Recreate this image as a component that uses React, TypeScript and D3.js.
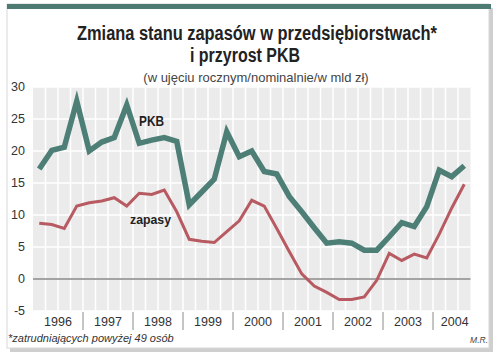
import * as d3 from 'd3'

// quarterly values, 1996 Q1 .. 2004 Q3
const pkb = [
  17.2, 20.1, 20.6, 27.8, 20.0, 21.4, 22.1, 27.2, 21.2, 21.7, 22.1, 21.5,
  11.6, 13.6, 15.6, 23.0, 19.1, 20.0, 16.8, 16.4, 12.9, 10.5, 8.0, 5.6,
  5.8, 5.6, 4.5, 4.5, 6.6, 8.8, 8.2, 11.3, 17.0, 16.0, 17.7,
]
const zapasy = [
  8.7, 8.5, 7.9, 11.4, 11.9, 12.2, 12.7, 11.4, 13.4, 13.2, 13.9, 10.5,
  6.2, 5.9, 5.7, 7.4, 9.1, 12.3, 11.4, 7.9, 4.3, 0.8, -1.1, -2.1,
  -3.2, -3.2, -2.8, -0.2, 4.0, 2.9, 3.9, 3.3, 7.0, 11.1, 14.8,
]
const years = ['1996', '1997', '1998', '1999', '2000', '2001', '2002', '2003', '2004']
const yTicks = [-5, 0, 5, 10, 15, 20, 25, 30]

const width = 500
const height = 363
const left = 33
const right = 470.5
const top = 87
const bottom = 311

export default function App() {
  const n = pkb.length
  const x = d3.scaleLinear([0, n], [left, right])
  const y = d3.scaleLinear([-5, 30], [bottom, top])

  const line = d3
    .line<number>()
    .x((_, i) => x(i + 0.5))
    .y((d) => y(d))

  const font = 'Arial, "Liberation Sans", sans-serif'

  return (
    <svg
      width={width}
      height={height}
      style={{ position: 'absolute', left: 0, top: 0, fontFamily: font }}
    >
      {/* card */}
      <rect x={10} y={8} width={483} height={344} fill="#cfcfcf" />
      <rect x={7} y={4} width={482} height={344} fill="#fff" stroke="#d8d8d8" />
      <rect x={7} y={4} width={484} height={5} fill="#4d7a73" />

      <text x={257} y={40} fontSize={20} fontWeight="bold" textAnchor="middle"
        textLength={360} lengthAdjust="spacingAndGlyphs" fill="#222">
        Zmiana stanu zapasów w przedsiębiorstwach*
      </text>
      <text x={245} y={62} fontSize={19.5} fontWeight="bold" textAnchor="middle"
        textLength={110} lengthAdjust="spacingAndGlyphs" fill="#222">
        i przyrost PKB
      </text>
      <text x={256} y={82} fontSize={13} textAnchor="middle" fill="#444">
        (w ujęciu rocznym/nominalnie/w mld zł)
      </text>

      {/* plot background */}
      <rect x={left} y={top} width={right - left} height={bottom - top} fill="#ebebeb" />
      {d3.range(1, n).map((i) => (
        <line key={'v' + i} x1={x(i)} x2={x(i)} y1={top} y2={bottom}
          stroke="#fff" strokeWidth={1.5} />
      ))}
      {yTicks.map((t) => (
        <line key={'h' + t} x1={left} x2={right} y1={y(t)} y2={y(t)}
          stroke={t === 0 ? '#a3a3a3' : '#fff'} strokeWidth={t === 0 ? 2 : 1.5} />
      ))}

      {yTicks.map((t) => (
        <text key={'yl' + t} x={25} y={y(t)} dy="0.35em" fontSize={12.5}
          textAnchor="end" fill="#333">
          {t}
        </text>
      ))}

      {years.map((yr, k) => {
        const a = x(k * 4)
        const b = Math.min(x(k * 4 + 4), right)
        return (
          <g key={yr}>
            {k > 0 && (
              <line x1={a} x2={a} y1={312} y2={330} stroke="#8a8a8a" strokeWidth={1} />
            )}
            <text x={(a + b) / 2 + (k === years.length - 1 ? 3 : 0)} y={326}
              fontSize={12.5} textAnchor="middle" fill="#333">
              {yr}
            </text>
          </g>
        )
      })}

      <path d={line(zapasy) ?? ''} fill="none" stroke="#b85a61" strokeWidth={3} />
      <path d={line(pkb) ?? ''} fill="none" stroke="#4d7f77" strokeWidth={5.5} />

      <text x={139} y={126} fontSize={14} fontWeight="bold" fill="#222"
        textLength={25} lengthAdjust="spacingAndGlyphs">PKB</text>
      <text x={130} y={224} fontSize={13.5} fontWeight="bold" fill="#222"
        textLength={41} lengthAdjust="spacingAndGlyphs">zapasy</text>

      <text x={8} y={342} fontSize={11} fontStyle="italic" fill="#333">
        *zatrudniających powyżej 49 osób
      </text>
      <text x={488} y={343} fontSize={8.5} fontStyle="italic" textAnchor="end" fill="#444">
        M.R.
      </text>
    </svg>
  )
}
